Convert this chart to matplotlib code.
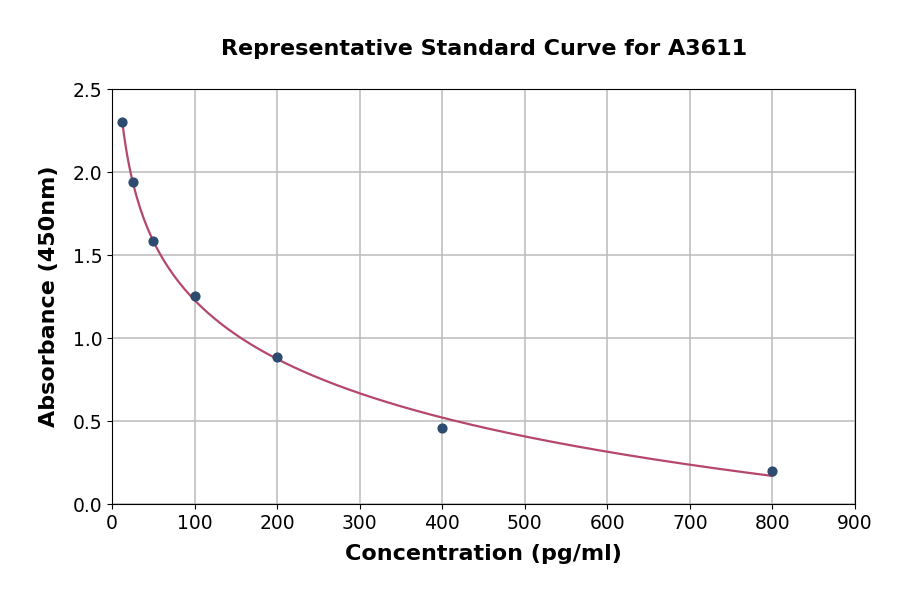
import matplotlib.pyplot as plt
import numpy as np

# standard curve points
conc = [12.5, 25, 50, 100, 200, 400, 800]
absorb = [2.30, 1.94, 1.585, 1.255, 0.885, 0.46, 0.20]

# smooth fit through the points (polynomial in log concentration)
coef = np.polyfit(np.log(conc), absorb, 2)
xs = np.linspace(min(conc), max(conc), 400)
ys = np.polyval(coef, np.log(xs))

fig = plt.figure(figsize=(9, 5.94), dpi=100)
ax = fig.add_axes([0.1244, 0.1515, 0.8256, 0.6985])

ax.plot(xs, ys, color='#b5476b', lw=1.6, zorder=2)
ax.scatter(conc, absorb, color='#2d4b6e', s=40, zorder=3)

ax.set_xlim(0, 900)
ax.set_ylim(0, 2.5)
ax.set_xticks(range(0, 901, 100))
ax.set_yticks([0.0, 0.5, 1.0, 1.5, 2.0, 2.5])
ax.set_yticklabels(['0.0', '0.5', '1.0', '1.5', '2.0', '2.5'])
ax.grid(True, color='#bbbbbb', lw=1.1)
ax.set_axisbelow(True)
ax.tick_params(labelsize=13.5)

ax.set_xlabel('Concentration (pg/ml)', fontsize=16, fontweight='bold', labelpad=8)
ax.set_ylabel('Absorbance (450nm)', fontsize=16, fontweight='bold', labelpad=10)
fig.text(0.538, 0.917, 'Representative Standard Curve for A3611', ha='center', va='center',
         fontsize=16, fontweight='bold')

fig.savefig('out.png', dpi=100)
